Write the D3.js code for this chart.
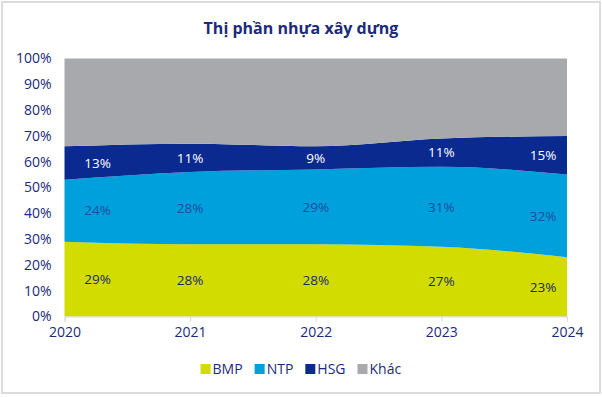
<!DOCTYPE html>
<html>
<head>
<meta charset="utf-8">
<script src="https://cdn.jsdelivr.net/npm/d3@7"></script>
<style>
  body { margin: 0; background: #fff; }
  text { font-family: "Open Sans", Lato, sans-serif; }
</style>
</head>
<body>
<script>
// data
var years = [2020, 2021, 2022, 2023, 2024];
var bmp = [29, 28, 28, 27, 23];
var ntp = [24, 28, 29, 31, 32];
var hsg = [13, 11, 9, 11, 15];
var khac = [34, 33, 34, 31, 30];
var seriesNames = ["BMP", "NTP", "HSG", "Khác"];
var yTicks = [0, 10, 20, 30, 40, 50, 60, 70, 80, 90, 100];

var colors = { "BMP": "#d2dc00", "NTP": "#00a0dc", "HSG": "#0b2a8f", "Khác": "#a7a9ac" };
var labelColors = { "BMP": "#1b2a6a", "NTP": "#1e4fa0", "HSG": "#ffffff" };
var navy = "#1b2a7a";

var W = 602, H = 397;
var margin = {top: 58.5, right: 35, bottom: 80.5, left: 64.5}
  , width = W - margin.left - margin.right
  , height = H - margin.top - margin.bottom;

var svg = d3.select("body").append("svg")
    .attr("width", W)
    .attr("height", H);

// frame
svg.append("rect")
    .attr("x", 2).attr("y", 2)
    .attr("width", W - 4).attr("height", H - 6)
    .attr("fill", "#fff")
    .attr("stroke", "#dcdcdc")
    .attr("stroke-width", 2);

svg.append("text")
    .attr("x", W / 2).attr("y", 34)
    .attr("text-anchor", "middle")
    .attr("font-size", 16).attr("font-weight", 700)
    .attr("fill", navy)
    .text("Thị phần nhựa xây dựng");

var table = years.map(function(y, i) {
  return { year: y, "BMP": bmp[i], "NTP": ntp[i], "HSG": hsg[i], "Khác": khac[i] };
});

var x = d3.scaleLinear().domain(d3.extent(years)).range([0, width]);
var y = d3.scaleLinear().domain([0, 100]).range([height, 0]);

var stack = d3.stack().keys(seriesNames);
var layers = stack(table);

var area = d3.area()
    .curve(d3.curveMonotoneX)
    .x(function(d) { return x(d.data.year); })
    .y0(function(d) { return y(d[0]); })
    .y1(function(d) { return y(Math.min(d[1], 100)); });

var g = svg.append("g").attr("transform", "translate(" + margin.left + "," + margin.top + ")");

g.selectAll(".layer")
  .data(layers)
  .enter()
  .append("path")
  .attr("class", "layer")
  .attr("d", area)
  .attr("fill", function(d) { return colors[d.key]; });

// x axis
var xAxis = g.append("g")
    .attr("transform", "translate(0," + height + ")")
    .call(d3.axisBottom(x).tickValues(years).tickFormat(d3.format("d")).tickSize(5).tickPadding(6));
xAxis.select(".domain").attr("stroke", "#d9d9d9");
xAxis.selectAll(".tick line").attr("stroke", "#d9d9d9");
xAxis.selectAll("text").attr("fill", navy).attr("font-size", 14)
    .style("font-family", "'Open Sans', Lato, sans-serif");

// y axis
var yAxis = g.append("g")
    .call(d3.axisLeft(y).tickValues(yTicks).tickFormat(function(d) { return d + "%"; }).tickSize(0).tickPadding(13));
yAxis.select(".domain").remove();
yAxis.selectAll("text").attr("fill", navy).attr("font-size", 14)
    .style("font-family", "'Open Sans', Lato, sans-serif");

// value labels
layers.slice(0, 3).forEach(function(layer) {
  g.selectAll(".lbl-" + layer.key)
    .data(layer)
    .enter()
    .append("text")
    .attr("x", function(d) { return Math.max(33, Math.min(width - 24, x(d.data.year))); })
    .attr("y", function(d) { return y((d[0] + d[1]) / 2); })
    .attr("dy", "0.35em")
    .attr("text-anchor", "middle")
    .attr("font-size", 13.5)
    .attr("fill", labelColors[layer.key])
    .text(function(d) { return (d[1] - d[0]) + "%"; });
});

// legend
var legend = svg.append("g").attr("transform", "translate(" + (W / 2) + ",369)");
var items = legend.selectAll(".item")
    .data(seriesNames)
    .enter()
    .append("g")
    .attr("class", "item");
items.append("rect")
    .attr("width", 10).attr("height", 10)
    .attr("y", -5)
    .attr("fill", function(d) { return colors[d]; });
items.append("text")
    .attr("x", 12)
    .attr("dy", "0.35em")
    .attr("font-size", 14)
    .attr("fill", navy)
    .text(function(d) { return d; });
var off = 0;
items.each(function() {
  var w = this.getBBox().width;
  d3.select(this).attr("data-x", off);
  off += w + 12;
});
var total = off - 12;
items.attr("transform", function() {
  return "translate(" + (+d3.select(this).attr("data-x") - total / 2) + ",0)";
});
</script>
</body>
</html>
